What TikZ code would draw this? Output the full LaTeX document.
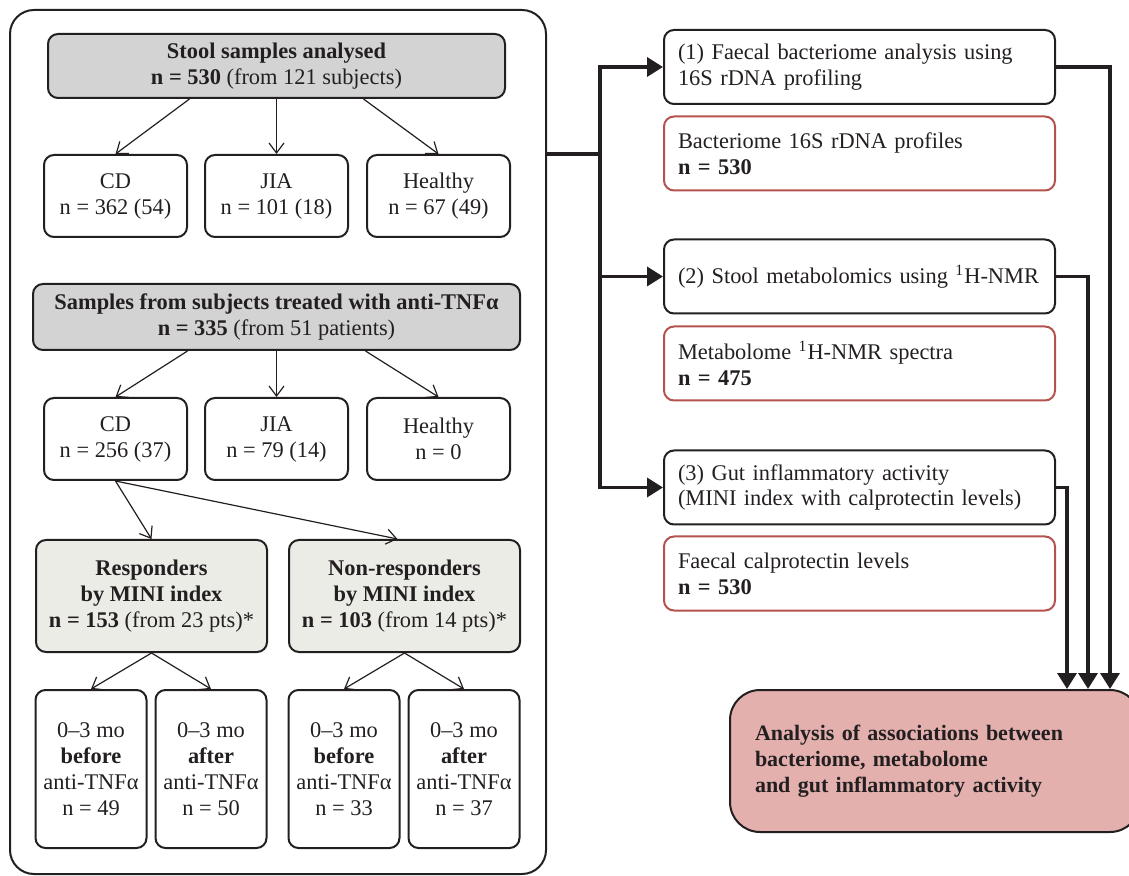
\documentclass[tikz,border=0pt]{standalone}
\usepackage{fontspec}
\setmainfont{Liberation Serif}
\usetikzlibrary{arrows.meta,positioning,calc}
\definecolor{ink}{HTML}{231F20}
\definecolor{hdr}{HTML}{D3D3D3}
\definecolor{grp}{HTML}{ECECE7}
\definecolor{datred}{HTML}{B4524E}
\definecolor{goal}{HTML}{E3B0AE}

\begin{document}
\begin{tikzpicture}[
  x=0.5pt, y=-0.5pt,
  font=\fontsize{11.2}{13}\selectfont, ink,
  cbox/.style={draw=ink, line width=1pt, rounded corners=5pt, align=center,
               inner sep=2pt, text=ink},
  hdbox/.style={cbox, fill=hdr, minimum height=32pt},
  grpbox/.style={cbox, minimum width=71.5pt, minimum height=41pt},
  rspbox/.style={cbox, fill=grp, minimum width=115.5pt, minimum height=56pt},
  winbox/.style={cbox, minimum width=55.5pt, minimum height=79pt},
  phase/.style={cbox, align=left, text width=181.5pt, inner xsep=7pt,
                minimum height=37pt},
  dataset/.style={phase, draw=datred},
  result/.style={draw=ink, line width=1pt, fill=goal, rounded corners=15pt,
                 align=left, text width=180pt, inner xsep=12.5pt,
                 minimum height=71pt, font=\fontsize{11}{13}\selectfont\bfseries},
  sub/.style={-{Straight Barb[length=5pt,width=7.5pt]}, draw=ink, line width=0.6pt},
  flow/.style={-{Triangle[length=8pt,width=9.5pt]}, draw=ink, line width=1.75pt},
]
\useasboundingbox (0,0) rectangle (1129,876);

% ---- cohort frame -----------------------------------------------------------
\node[draw=ink, line width=1pt, rounded corners=12pt, minimum width=268pt,
      minimum height=432pt] (cohort) at (278,442) {};

% ---- all samples ------------------------------------------------------------
\node[hdbox, minimum width=228.5pt] (all) at (276.5,66)
  {\textbf{Stool samples analysed}\\\textbf{n = 530} (from 121 subjects)};
\node[grpbox] (cdA) at (115.5,196) {CD\\n = 362 (54)};
\node[grpbox] (jiaA) at (276.5,196) {JIA\\n = 101 (18)};
\node[grpbox] (hlA) at (438.5,196) {Healthy\\n = 67 (49)};
\draw[sub] ($(all.south)+(-87,0)$) -- (cdA.north);
\draw[sub] (all.south) -- (jiaA.north);
\draw[sub] ($(all.south)+(87,0)$) -- (hlA.north);

% ---- treated subjects -------------------------------------------------------
\node[hdbox, minimum width=243.5pt, minimum height=33pt] (tnf) at (276.5,317)
  {\textbf{Samples from subjects treated with anti-TNFα}\\
   \textbf{n = 335} (from 51 patients)};
\node[grpbox] (cdB) at (115.5,439) {CD\\n = 256 (37)};
\node[grpbox] (jiaB) at (276.5,439) {JIA\\n = 79 (14)};
\node[grpbox] (hlB) at (438.5,439) {Healthy\\n = 0};
\draw[sub] ($(tnf.south)+(-89,0)$) -- (cdB.north);
\draw[sub] (tnf.south) -- (jiaB.north);
\draw[sub] ($(tnf.south)+(89,0)$) -- (hlB.north);

% ---- response groups --------------------------------------------------------
\node[rspbox] (resp) at (151.5,596)
  {\textbf{Responders}\\\textbf{by MINI index}\\\textbf{n = 153} (from 23 pts)*};
\node[rspbox] (nonresp) at (404.5,596)
  {\textbf{Non-responders}\\\textbf{by MINI index}\\\textbf{n = 103} (from 14 pts)*};
\draw[sub] (cdB.south) -- (resp.north);
\draw[sub] (cdB.south) -- ($(nonresp.north)+(-7,0)$);

% ---- time windows -----------------------------------------------------------
\node[winbox] (rb) at (91,769) {0–3 mo\\\textbf{before}\\anti-TNFα\\n = 49};
\node[winbox] (ra) at (211,769) {0–3 mo\\\textbf{after}\\anti-TNFα\\n = 50};
\node[winbox] (nb) at (344,769) {0–3 mo\\\textbf{before}\\anti-TNFα\\n = 33};
\node[winbox] (na) at (464,769) {0–3 mo\\\textbf{after}\\anti-TNFα\\n = 37};
\draw[sub] (resp.south) -- (rb.north);
\draw[sub] (resp.south) -- (ra.north);
\draw[sub] (nonresp.south) -- (nb.north);
\draw[sub] (nonresp.south) -- (na.north);

% ---- analyses and data ------------------------------------------------------
\node[phase] (p1) at (859.5,67)
  {(1) Faecal bacteriome analysis using\\16S rDNA profiling};
\node[dataset] (d1) at (859.5,153.5)
  {Bacteriome 16S rDNA profiles\\\textbf{n = 530}};
\node[phase] (p2) at (859.5,276.5)
  {(2) Stool metabolomics using \textsuperscript{1}H-NMR};
\node[dataset] (d2) at (859.5,363.5)
  {Metabolome \textsuperscript{1}H-NMR spectra\\\textbf{n = 475}};
\node[phase] (p3) at (859.5,487.5)
  {(3) Gut inflammatory activity\\(MINI index with calprotectin levels)};
\node[dataset] (d3) at (859.5,573.5)
  {Faecal calprotectin levels\\\textbf{n = 530}};

% ---- integration ------------------------------------------------------------
\node[result] (res) at (935,761)
  {Analysis of associations between\\bacteriome, metabolome\\
   and gut inflammatory activity};

\coordinate (split) at (600,154);
\draw[draw=ink, line width=1.75pt] (cohort.east |- split) -- (split);
\draw[flow] (split) |- (p1.west);
\draw[flow] (split) |- (p2.west);
\draw[flow] (split) |- (p3.west);
\draw[flow] (p1.east) -| ($(res.north)+(175,0)$);
\draw[flow] (p2.east) -| ($(res.north)+(153,0)$);
\draw[flow] (p3.east) -| ($(res.north)+(132,0)$);

\end{tikzpicture}
\end{document}
